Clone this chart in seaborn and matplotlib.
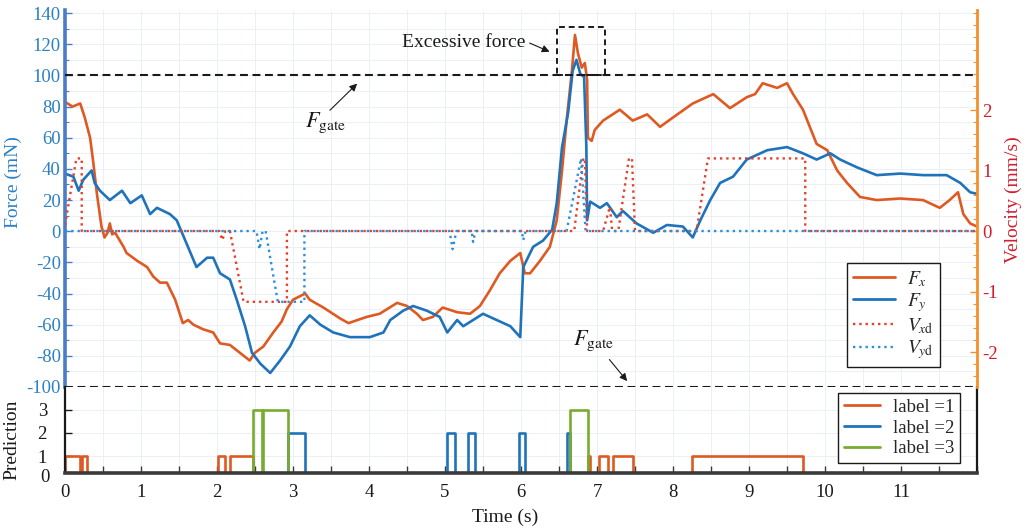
import matplotlib
matplotlib.use("Agg")
import matplotlib.pyplot as plt
import seaborn as sns
from matplotlib.lines import Line2D
from matplotlib.patches import Rectangle
from matplotlib.ticker import MultipleLocator, FixedLocator

sns.set_theme(style="white")
plt.rcParams['font.family'] = ['Liberation Serif', 'DejaVu Serif']
plt.rcParams['mathtext.fontset'] = 'stix'
plt.rcParams['axes.unicode_minus'] = False

# ---------------- data ----------------
t_fx = [0.00, 0.10, 0.20, 0.26, 0.33, 0.37, 0.42, 0.48, 0.52, 0.56, 0.59, 0.62, 0.66, 0.77, 0.81,
        0.95, 1.08, 1.16, 1.25, 1.34, 1.45, 1.51, 1.55, 1.62, 1.69, 1.82, 1.95, 2.04, 2.17, 2.30,
        2.43, 2.50, 2.61, 2.74, 2.85, 2.92, 3.00, 3.16, 3.22, 3.40, 3.62, 3.73, 3.97, 4.14, 4.37,
        4.50, 4.63, 4.71, 4.84, 4.97, 5.16, 5.33, 5.46, 5.59, 5.72, 5.86, 5.99, 6.05, 6.12, 6.25,
        6.38, 6.47, 6.54, 6.60, 6.67, 6.71, 6.75, 6.80, 6.84, 6.87, 6.88, 6.93, 6.97, 7.08, 7.30,
        7.47, 7.66, 7.83, 8.00, 8.26, 8.53, 8.75, 8.97, 9.08, 9.18, 9.37, 9.50, 9.58, 9.71, 9.80,
        9.89, 10.03, 10.16, 10.29, 10.46, 10.68, 10.99, 11.29, 11.51, 11.64, 11.75, 11.82, 11.91, 12.00]
fx = [83, 80, 82, 73, 60, 45, 24, 3, -4, -1, 5, -2, -1, -10, -14,
      -19, -23, -29, -33, -33, -44, -53, -59, -57, -60, -63, -65, -72, -73, -78,
      -83, -78, -74, -65, -58, -50, -44, -40, -44, -49, -56, -59, -55, -53, -46,
      -48, -53, -57, -55, -49, -52, -53, -48, -38, -27, -19, -14, -27, -27, -19,
      -10, 7, 39, 71, 103, 126, 114, 105, 108, 97, 60, 58, 65, 71, 78,
      71, 75, 67, 73, 82, 88, 79, 86, 88, 95, 92, 95, 88, 78, 67,
      56, 52, 39, 31, 22, 20, 21, 20, 15, 20, 25, 11, 5, 3]

t_fy = [0.00, 0.11, 0.18, 0.24, 0.35, 0.39, 0.46, 0.59, 0.75, 0.86, 1.01, 1.12, 1.21, 1.38, 1.47,
        1.54, 1.60, 1.73, 1.87, 1.95, 2.04, 2.17, 2.26, 2.37, 2.46, 2.57, 2.70, 2.83, 2.96, 3.09,
        3.22, 3.36, 3.53, 3.75, 4.01, 4.19, 4.28, 4.45, 4.58, 4.76, 4.93, 5.03, 5.16, 5.24, 5.37,
        5.50, 5.68, 5.86, 5.99, 6.03, 6.16, 6.29, 6.41, 6.47, 6.54, 6.62, 6.68, 6.73, 6.78, 6.83,
        6.86, 6.87, 6.91, 7.04, 7.13, 7.26, 7.34, 7.52, 7.74, 7.92, 8.13, 8.26, 8.36, 8.49, 8.62,
        8.79, 8.97, 9.24, 9.50, 9.71, 9.89, 10.07, 10.20, 10.42, 10.68, 10.99, 11.29, 11.60, 11.78,
        11.91, 12.00]
fy = [37, 35, 26, 33, 39, 31, 26, 20, 26, 18, 23, 11, 15, 11, 7,
      -1, -8, -23, -17, -17, -27, -31, -44, -61, -78, -85, -91, -83, -74, -61,
      -54, -60, -65, -68, -68, -65, -57, -51, -48, -51, -55, -65, -57, -61, -57,
      -53, -57, -61, -68, -23, -10, -6, 1, 18, 54, 76, 103, 110, 101, 99,
      54, 7, 19, 15, 18, 9, 13, 5, -1, 4, 3, -4, 7, 20, 31,
      35, 46, 52, 54, 50, 46, 50, 46, 41, 36, 37, 36, 36, 31,
      25, 24]

t_vxd = [0.00, 0.15, 0.22, 0.22, 2.03, 2.07, 2.11, 2.17, 2.35, 2.92, 2.92, 6.70, 6.82, 6.84, 6.87,
         7.08, 7.17, 7.20, 7.28, 7.42, 7.46, 7.50, 8.31, 8.46, 9.74, 9.74, 12.00]
vxd = [0.1, 1.2, 1.2, 0.0, 0.0, -0.15, 0.0, 0.0, -1.17, -1.17, 0.0, 0.0, 1.2, 1.2, 0.0,
       0.0, 0.4, 0.0, 0.0, 1.2, 1.2, 0.0, 0.0, 1.2, 1.2, 0.0, 0.0]

t_vyd = [0.00, 2.52, 2.56, 2.60, 2.64, 2.80, 3.15, 3.15, 5.06, 5.10, 5.15, 5.35, 5.37, 5.40,
         6.01, 6.03, 6.06, 6.60, 6.79, 6.85, 12.00]
vyd = [0.0, 0.0, -0.3, 0.0, 0.0, -1.17, -1.17, 0.0, 0.0, -0.3, 0.0, 0.0, -0.18, 0.0,
       0.0, -0.15, 0.0, 0.0, 1.2, 0.0, 0.0]

label1_intervals = [(0.00, 0.20), (0.22, 0.29), (2.01, 2.10), (2.17, 2.48), (6.88, 6.91),
                    (7.03, 7.14), (7.21, 7.47), (8.25, 9.71)]
label2_intervals = [(2.94, 3.16), (5.02, 5.13), (5.30, 5.39), (5.97, 6.05), (6.60, 6.64)]
label3_intervals = [(2.48, 2.59), (2.61, 2.94), (6.64, 6.88)]

force_ticks = [-100, -80, -60, -40, -20, 0, 20, 40, 60, 80, 100, 120, 140]
vel_ticks = [-2, -1, 0, 1, 2]
time_ticks = [0, 1, 2, 3, 4, 5, 6, 7, 8, 9, 10, 11]
pred_ticks = [1, 2, 3]
f_gate = 100

# ---------------- styles ----------------
C_FX = '#DF5A22'
C_FY = '#1F73BB'
C_VX = '#E4402C'
C_VY = '#2D8FDA'
C_L3 = '#77AC30'
C_LEFT = '#4A7CC8'
C_LEFT_TXT = '#2C80C4'
C_RIGHT = '#F3902E'
C_RIGHT_TXT = '#CF1F2F'
GRID = '#EBEFF6'

W, H = 1026, 531
fig = plt.figure(figsize=(W / 100, H / 100), dpi=100)
ax = fig.add_axes([65 / W, 1 - 387 / H, 912 / W, 377 / H])
ax3 = fig.add_axes([65 / W, 1 - 473 / H, 912 / W, 86 / H], sharex=ax)
ax2 = ax.twinx()
ax2.patch.set_visible(False)

# ---------------- top panel ----------------
ax.set_xlim(0, 12)
ax.set_ylim(-100, 142)
ax2.set_ylim(-2.578, 3.653)

ax.xaxis.set_minor_locator(MultipleLocator(0.5))
ax.yaxis.set_major_locator(FixedLocator(force_ticks))
ax.yaxis.set_minor_locator(MultipleLocator(10))
ax.grid(which='both', color=GRID, lw=0.7)
ax.set_axisbelow(True)

sns.lineplot(x=t_fx, y=fx, ax=ax, color=C_FX, lw=1.9, estimator=None, sort=False)
sns.lineplot(x=t_fy, y=fy, ax=ax, color=C_FY, lw=1.9, estimator=None, sort=False)
sns.lineplot(x=t_vxd, y=vxd, ax=ax2, color=C_VX, lw=1.7, linestyle=':', estimator=None, sort=False)
sns.lineplot(x=t_vyd, y=vyd, ax=ax2, color=C_VY, lw=1.7, linestyle=':', estimator=None, sort=False)

dash = (0, (3.8, 2.2))
ax.axhline(f_gate, color='k', lw=1.5, ls=dash, zorder=3)
ax.axhline(-f_gate, color='k', lw=1.5, ls=dash, zorder=3, clip_on=False)

for s in ['top', 'bottom', 'right']:
    ax.spines[s].set_visible(False)
ax.spines['left'].set_color(C_LEFT)
ax.spines['left'].set_linewidth(2.6)
for s in ['top', 'bottom', 'left']:
    ax2.spines[s].set_visible(False)
ax2.spines['right'].set_color(C_RIGHT)
ax2.spines['right'].set_linewidth(2.0)

ax.tick_params(axis='x', which='both', bottom=False, labelbottom=False)
ax.tick_params(axis='y', which='major', direction='in', length=5, width=1, color=C_LEFT,
               labelcolor=C_LEFT_TXT, labelsize=13.5, pad=3, left=True)
ax.tick_params(axis='y', which='minor', direction='in', length=3, width=0.8, color=C_LEFT, left=True)

ax2.yaxis.set_major_locator(FixedLocator(vel_ticks))
ax2.yaxis.set_minor_locator(MultipleLocator(0.2))
ax2.tick_params(axis='y', which='major', direction='in', length=5, width=1, color=C_RIGHT,
                labelcolor=C_RIGHT_TXT, labelsize=13.5, pad=4, right=True)
ax2.tick_params(axis='y', which='minor', direction='in', length=3, width=0.8, color=C_RIGHT, right=True)
ax2.set_ylabel('')
ax.set_ylabel('')

# annotations
ax.text(5.24, 121.3, 'Excessive force', ha='center', va='center', fontsize=14, color='k')
ax.annotate('', xy=(6.41, 114.5), xytext=(6.08, 121.5),
            arrowprops=dict(arrowstyle='-|>', color='k', lw=0.8, mutation_scale=11))
ax.add_patch(Rectangle((6.47, 100.5), 0.63, 30.5, fill=False, ec='k', lw=1.4,
                       ls=(0, (3, 2)), zorder=4, clip_on=False))
ax.text(3.16, 67, r'$F_{\mathrm{gate}}$', ha='left', va='baseline', fontsize=16, color='k')
ax.annotate('', xy=(3.87, 96.0), xytext=(3.46, 76.4),
            arrowprops=dict(arrowstyle='-|>', color='k', lw=0.8, mutation_scale=11))
ax.text(6.68, -73, r'$F_{\mathrm{gate}}$', ha='left', va='baseline', fontsize=16, color='k')
ax.annotate('', xy=(7.42, -97.6), xytext=(7.14, -81.0),
            arrowprops=dict(arrowstyle='-|>', color='k', lw=0.8, mutation_scale=11))

handles = [Line2D([], [], color=C_FX, lw=2), Line2D([], [], color=C_FY, lw=2),
           Line2D([], [], color=C_VX, lw=1.7, ls=':'), Line2D([], [], color=C_VY, lw=1.7, ls=':')]
labels = [r'$F_x$', r'$F_y$', r'$V_{x\mathrm{d}}$', r'$V_{y\mathrm{d}}$']
leg = ax2.legend(handles, labels, loc='lower right', bbox_to_anchor=(0.959, 0.053),
                 fontsize=14, frameon=True, fancybox=False, framealpha=1, edgecolor='k',
                 handlelength=2.2, handletextpad=0.6, borderpad=0.3, labelspacing=0.12,
                 borderaxespad=0)
leg.get_frame().set_linewidth(1.0)


# ---------------- bottom panel ----------------
def steps(intervals, level):
    ts, ys = [0.0], [0.0]
    for a, b in intervals:
        ts += [a, a, b, b]
        ys += [0, level, level, 0]
    ts.append(12.0)
    ys.append(0)
    return ts, ys


for ints, lvl, col in [(label1_intervals, 1, C_FX), (label2_intervals, 2, C_FY),
                       (label3_intervals, 3, C_L3)]:
    tx, ty = steps(ints, lvl)
    sns.lineplot(x=tx, y=ty, ax=ax3, color=col, lw=1.9, estimator=None, sort=False,
                 solid_joinstyle='round')

ax3.set_ylim(0.27, 3.97)
ax3.set_xlim(0, 12)
ax3.xaxis.set_major_locator(FixedLocator(time_ticks))
ax3.xaxis.set_minor_locator(MultipleLocator(0.5))
ax3.yaxis.set_major_locator(FixedLocator(pred_ticks))
ax3.grid(which='both', axis='x', color=GRID, lw=0.7)
ax3.grid(which='major', axis='y', color=GRID, lw=0.7)
ax3.set_axisbelow(True)
ax3.spines['top'].set_visible(False)
for s in ['left', 'right']:
    ax3.spines[s].set_color('k')
    ax3.spines[s].set_linewidth(1.6)
ax3.spines['bottom'].set_color('#3A3A3A')
ax3.spines['bottom'].set_linewidth(2.6)
ax3.tick_params(axis='x', which='both', direction='in', length=5, width=1, color='#3A3A3A',
                labelsize=13.5, labelcolor='k', pad=8, bottom=True)
ax3.tick_params(axis='y', which='major', direction='in', length=5, width=1, color='k',
                labelsize=13.5, labelcolor='k', pad=13, left=True)
ax3.set_xlabel('')
ax3.set_ylabel('')

leg2 = ax3.legend([Line2D([], [], color=C_FX, lw=2), Line2D([], [], color=C_FY, lw=2),
                   Line2D([], [], color=C_L3, lw=2)],
                  ['label =1', 'label =2', 'label =3'], loc='lower right',
                  bbox_to_anchor=(0.981, 0.116), fontsize=13.5, frameon=True, fancybox=False,
                  framealpha=1, edgecolor='k', handlelength=1.9, handletextpad=0.7,
                  borderpad=0.3, labelspacing=0.2, borderaxespad=0)
leg2.get_frame().set_linewidth(1.0)

# ---------------- figure texts ----------------
fig.text(50 / W, 1 - 478 / H, '0', ha='right', va='center', fontsize=13.5, color='k')
fig.text(13 / W, 1 - 182 / H, 'Force (mN)', rotation=90, ha='center', va='center',
         fontsize=14, color=C_LEFT_TXT)
fig.text(1013 / W, 1 - 200 / H, 'Velocity (mm/s)', rotation=90, ha='center', va='center',
         fontsize=14, color=C_RIGHT_TXT)
fig.text(12 / W, 1 - 440 / H, 'Prediction', rotation=90, ha='center', va='center',
         fontsize=14, color='k')
fig.text(505 / W, 1 - 517 / H, 'Time (s)', ha='center', va='center', fontsize=14, color='k')

fig.savefig('out.png', dpi=100)
